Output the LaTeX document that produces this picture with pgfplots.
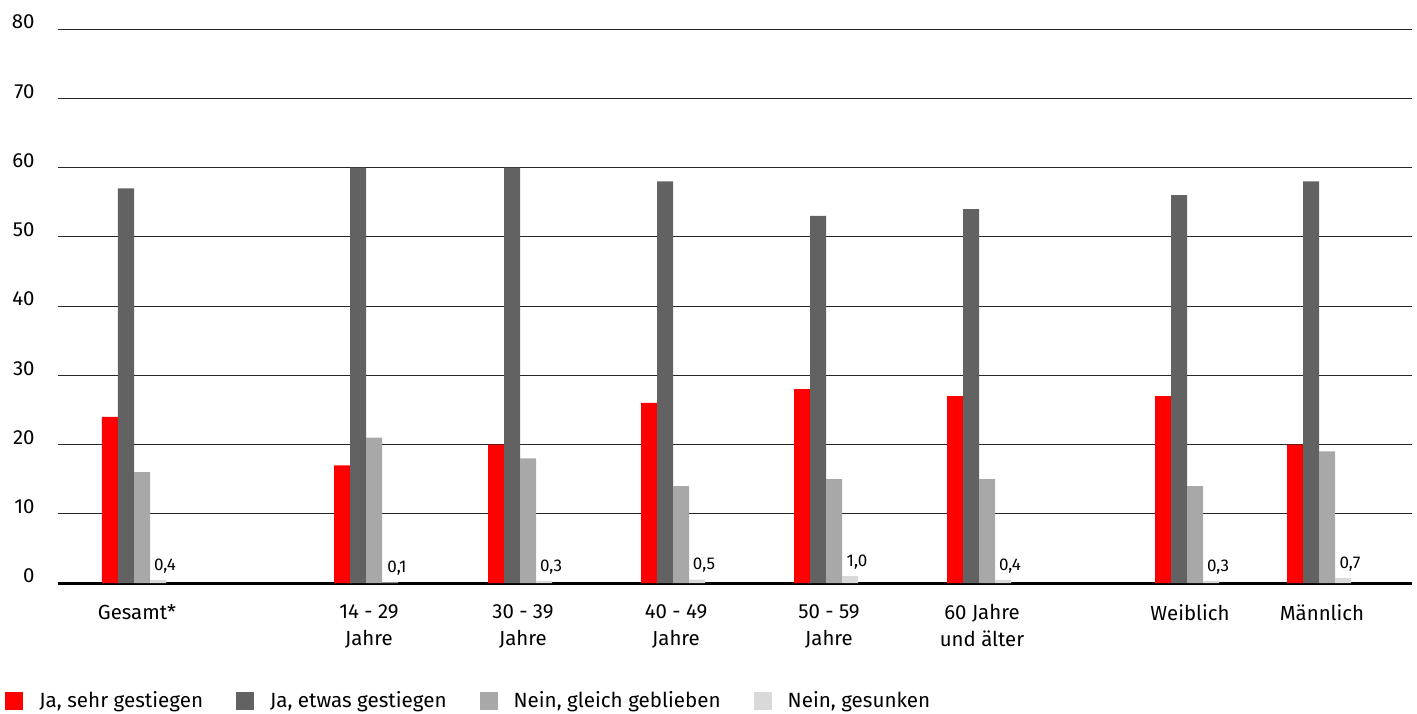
\documentclass[border=0pt]{standalone}
\usepackage{fontspec}
\setmainfont{Fira Sans}
\usepackage{pgfplots}
\usepackage{pgfplotstable}
\pgfplotsset{compat=1.18}

\definecolor{cRed}{HTML}{FF0000}
\definecolor{cDark}{HTML}{626262}
\definecolor{cMid}{HTML}{A8A8A8}
\definecolor{cLight}{HTML}{D9D9D9}

% x = group centre (px of the original layout)
\pgfplotstableread{
x     sehr  etwas  gleich  gesunken
134   24    57     16      0.4
366   17    60     21      0.1
520   20    60     18      0.3
673   26    58     14      0.5
826   28    53     15      1.0
979   27    54     15      0.4
1187  27    56     14      0.3
1319  20    58     19      0.7
}\umfrage

\begin{document}
\begin{tikzpicture}
\begin{axis}[
  at={(0,0)}, anchor=south west,
  scale only axis,
  width=677pt, height=277pt,
  xmin=58, xmax=1412,
  ymin=0, ymax=80,
  ytick={0,10,...,80},
  xtick={134,366,520,673,826,979,1187,1319},
  xticklabels={Gesamt*, {14 - 29\\Jahre}, {30 - 39\\Jahre}, {40 - 49\\Jahre},
    {50 - 59\\Jahre}, {60 Jahre\\und älter}, Weiblich, Männlich},
  major tick length=0pt,
  axis lines*=left,
  y axis line style={draw=none},
  x axis line style={-, line width=1.5pt, black},
  ymajorgrids,
  grid style={black!85, line width=0.5pt},
  font=\fontsize{10.2}{13.5}\selectfont,
  /pgf/number format/assume math mode=true,
  yticklabel style={anchor=east, inner sep=0pt, xshift=-11.5pt, yshift=3.5pt},
  xticklabel style={anchor=north, inner sep=0pt, align=center, yshift=-10.5pt, xshift=1.5pt},
  ybar, bar width=8pt,
  legend columns=4,
  legend style={
    at={(axis description cs:-0.0391,-0.213)}, anchor=west,
    draw=none, fill=none, inner sep=0pt,
    font=\fontsize{10.3}{13.5}\selectfont,
    /tikz/every odd column/.append style={column sep=6pt},
    /tikz/every even column/.append style={column sep=14.5pt},
  },
  legend image code/.code={\fill[#1] (0pt,-4.5pt) rectangle (9pt,4.5pt);},
]
\addplot[fill=cRed, draw=none, bar shift=-12pt] table[x=x, y=sehr] {\umfrage};
\addlegendentry{Ja, sehr gestiegen}
\addplot[fill=cDark, draw=none, bar shift=-4pt] table[x=x, y=etwas] {\umfrage};
\addlegendentry{Ja, etwas gestiegen}
\addplot[fill=cMid, draw=none, bar shift=4pt] table[x=x, y=gleich] {\umfrage};
\addlegendentry{Nein, gleich geblieben}
\addplot[fill=cLight, draw=none, bar shift=12pt,
  nodes near coords,
  nodes near coords style={font=\fontsize{8.5}{9}\selectfont, black, anchor=south,
    xshift=3.5pt, yshift=0pt,
    /pgf/number format/.cd, use comma, fixed, fixed zerofill, precision=1},
] table[x=x, y=gesunken] {\umfrage};
\addlegendentry{Nein, gesunken}
\end{axis}
\pgfresetboundingbox
\path[use as bounding box] (-29pt,-65pt) rectangle (679.5pt,291.5pt);
\end{tikzpicture}
\end{document}
